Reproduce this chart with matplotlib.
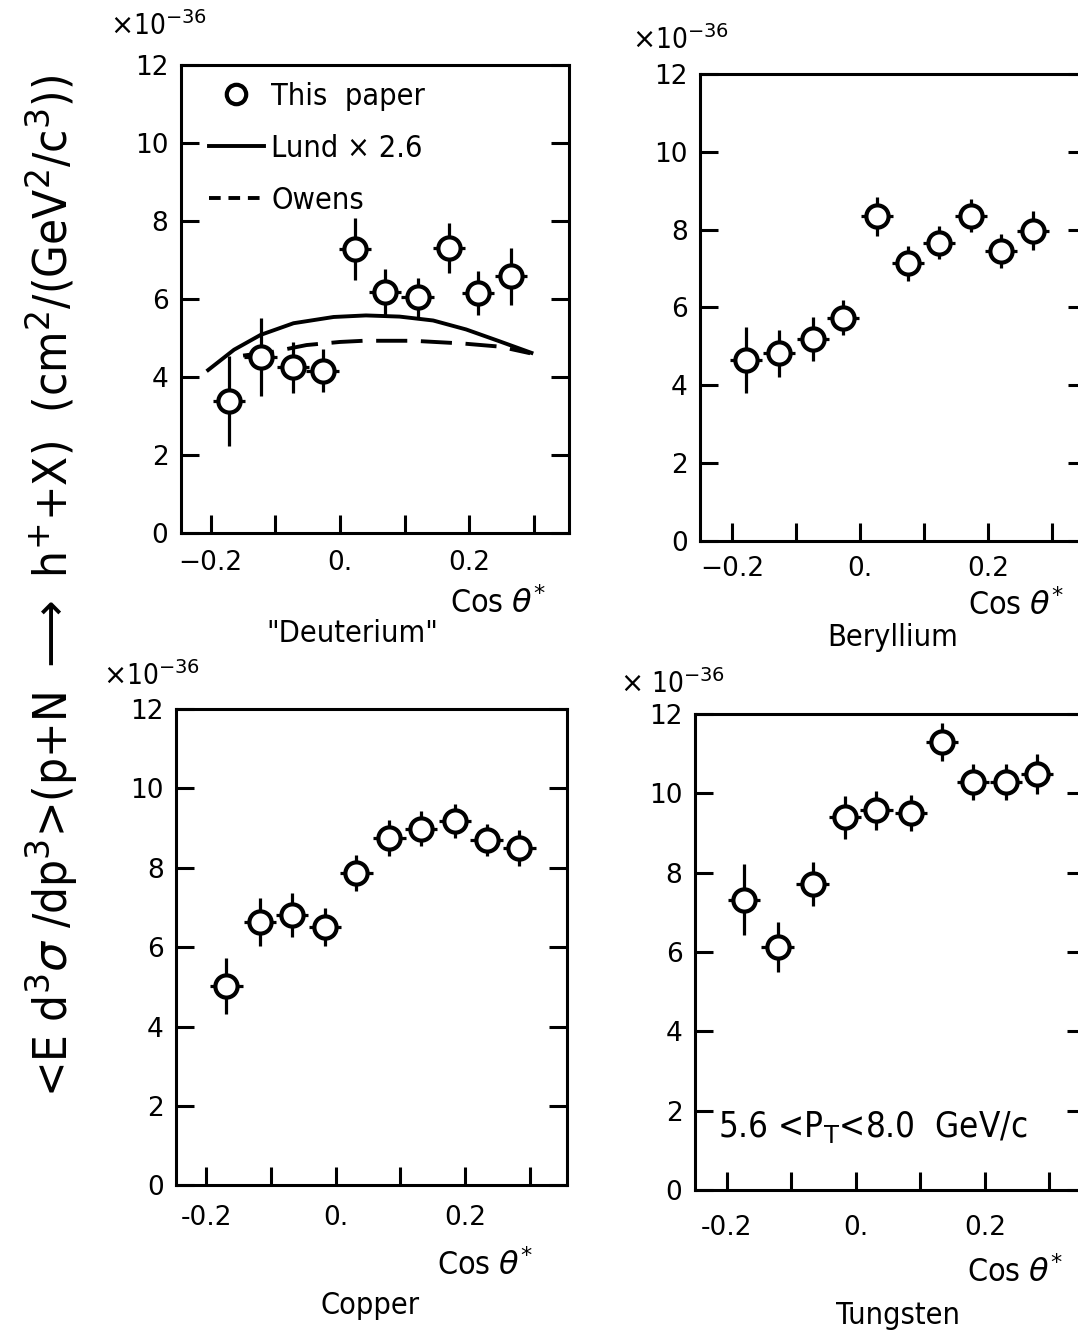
import matplotlib
matplotlib.use("Agg")
import matplotlib.pyplot as plt
from matplotlib.lines import Line2D

plt.rcParams["font.family"] = ["DejaVu Sans"]
plt.rcParams["mathtext.fontset"] = "dejavusans"

# ── Data (values in units of 1e-36) ──────────────────────────────────────────
cos_D = [-0.172, -0.123, -0.073, -0.027, 0.023, 0.069, 0.120, 0.168, 0.213, 0.264]
val_D = [3.39, 4.52, 4.25, 4.16, 7.28, 6.18, 6.04, 7.31, 6.15, 6.58]
err_D = [1.15, 1.0, 0.65, 0.55, 0.8, 0.6, 0.5, 0.65, 0.57, 0.72]

cos_Be = [-0.178, -0.127, -0.074, -0.027, 0.026, 0.075, 0.124, 0.173, 0.220, 0.270]
val_Be = [4.64, 4.82, 5.18, 5.73, 8.34, 7.14, 7.66, 8.36, 7.45, 7.97]
err_Be = [0.85, 0.6, 0.57, 0.45, 0.5, 0.45, 0.42, 0.43, 0.44, 0.5]

cos_Cu = [-0.169, -0.117, -0.068, -0.017, 0.032, 0.083, 0.132, 0.184, 0.233, 0.284]
val_Cu = [5.03, 6.64, 6.82, 6.51, 7.87, 8.75, 8.99, 9.18, 8.71, 8.50]
err_Cu = [0.7, 0.6, 0.55, 0.47, 0.45, 0.45, 0.45, 0.42, 0.4, 0.45]

cos_W = [-0.173, -0.121, -0.067, -0.017, 0.032, 0.085, 0.133, 0.182, 0.233, 0.281]
val_W = [7.32, 6.13, 7.72, 9.39, 9.57, 9.50, 11.29, 10.28, 10.29, 10.48]
err_W = [0.9, 0.63, 0.55, 0.55, 0.5, 0.45, 0.47, 0.46, 0.45, 0.5]

XERR = 0.025   # half bin width in cos theta*

# model curves (deuterium panel)
lund_x = [-0.204, -0.164, -0.123, -0.072, -0.010, 0.040, 0.092, 0.144, 0.195, 0.246, 0.296]
lund_y = [4.18, 4.70, 5.08, 5.38, 5.54, 5.58, 5.55, 5.45, 5.22, 4.92, 4.62]
owens_x = [-0.15, -0.103, -0.052, 0.0, 0.036, 0.113, 0.19, 0.247, 0.294]
owens_y = [4.55, 4.65, 4.82, 4.90, 4.93, 4.93, 4.86, 4.78, 4.61]

XTICKS = [-0.2, -0.1, 0.0, 0.1, 0.2, 0.3]
YTICKS = [0, 2, 4, 6, 8, 10, 12]

COND = dict(fontstretch="condensed")

fig = plt.figure(figsize=(10.78, 13.38), dpi=100)


def panel(rect, xlim, cos, val, err, xpad, minus):
    ax = fig.add_axes(rect)
    ax.errorbar(cos, val, yerr=err, xerr=XERR, fmt="o", color="black",
                ms=16, mfc="white", mec="black", mew=3,
                elinewidth=2.3, capsize=0, zorder=3)
    ax.set_xlim(*xlim)
    ax.set_ylim(0, 12)
    ax.set_xticks(XTICKS)
    ax.set_xticklabels([minus + "0.2", "", "0.", "", "0.2", ""])
    ax.set_yticks(YTICKS)
    ax.set_yticklabels([str(v) for v in YTICKS])
    ax.tick_params(axis="both", direction="in", length=13, width=2.2,
                   labelsize=19, right=True, top=False)
    ax.tick_params(axis="y", pad=9)
    ax.tick_params(axis="x", pad=xpad)
    for s in ax.spines.values():
        s.set_linewidth(2.2)
    return ax


ax_D = panel([0.1679, 0.6016, 0.3599, 0.3498], (-0.246, 0.354), cos_D, val_D, err_D, 12, "\u2212")
ax_Be = panel([0.6494, 0.5959, 0.3581, 0.3488], (-0.250, 0.353), cos_Be, val_Be, err_Be, 11, "\u2212")
ax_Cu = panel([0.1633, 0.1140, 0.3630, 0.3561], (-0.247, 0.358), cos_Cu, val_Cu, err_Cu, 14, "-")
ax_W = panel([0.6447, 0.1106, 0.3618, 0.3558], (-0.249, 0.355), cos_W, val_W, err_W, 18, "-")

# model curves + legend in the deuterium panel
ax_D.plot(lund_x, lund_y, color="black", lw=2.8, zorder=2)
ax_D.plot(owens_x, owens_y, color="black", lw=2.8, dashes=(8, 3.5), zorder=2)
handles = [
    Line2D([], [], ls="none", marker="o", ms=14, mfc="white", mec="black", mew=3),
    Line2D([], [], color="black", lw=2.8),
    Line2D([], [], color="black", lw=2.8, dashes=(3, 2)),
]
ax_D.legend(handles, ["This  paper", "Lund \u00d7 2.6", "Owens"], loc="upper left",
            bbox_to_anchor=(0.04, 0.99), frameon=False,
            prop=dict(size=22, stretch="condensed"),
            handlelength=1.8, handletextpad=0.25, labelspacing=0.75, numpoints=1,
            borderaxespad=0.0)

ax_W.text(-0.213, 1.6, r"5.6 <P$_{\mathrm{T}}$<8.0  GeV/c", fontsize=25,
          ha="left", va="center", **COND)

# ── figure-level texts ─────────────────────────────────────────────────────
cos_lbl = r"Cos $\theta^{*}$"
fig.text(498 / 1078, 1 - 604 / 1338, cos_lbl, fontsize=23, ha="center", va="center", **COND)
fig.text(352 / 1078, 1 - 634 / 1338, "\"Deuterium\"", fontsize=22, ha="center", va="center", **COND)
fig.text(1016 / 1078, 1 - 606 / 1338, cos_lbl, fontsize=23, ha="center", va="center", **COND)
fig.text(893 / 1078, 1 - 638 / 1338, "Beryllium", fontsize=22, ha="center", va="center", **COND)
fig.text(485 / 1078, 1 - 1266 / 1338, cos_lbl, fontsize=23, ha="center", va="center", **COND)
fig.text(370 / 1078, 1 - 1306 / 1338, "Copper", fontsize=22, ha="center", va="center", **COND)
fig.text(1015 / 1078, 1 - 1273 / 1338, cos_lbl, fontsize=23, ha="center", va="center", **COND)
fig.text(898 / 1078, 1 - 1315 / 1338, "Tungsten", fontsize=22, ha="center", va="center", **COND)

exp_lbl = r"$\times$10$^{-36}$"
fig.text(110 / 1078, 1 - 26 / 1338, exp_lbl, fontsize=20, ha="left", va="center", **COND)
fig.text(632 / 1078, 1 - 40 / 1338, exp_lbl, fontsize=20, ha="left", va="center", **COND)
fig.text(103 / 1078, 1 - 676 / 1338, exp_lbl, fontsize=20, ha="left", va="center", **COND)
fig.text(620 / 1078, 1 - 684 / 1338, r"$\times$ 10$^{-36}$", fontsize=20, ha="left", va="center", **COND)

fig.text(0.048, 1 - 586 / 1338,
         r"<E d$^3\sigma$ /dp$^3$>(p+N $\longrightarrow$ h$^{+}$+X)  (cm$^2$/(GeV$^2$/c$^3$))",
         rotation=90, fontsize=34, ha="center", va="center", **COND)

fig.savefig("out.png", dpi=100)
